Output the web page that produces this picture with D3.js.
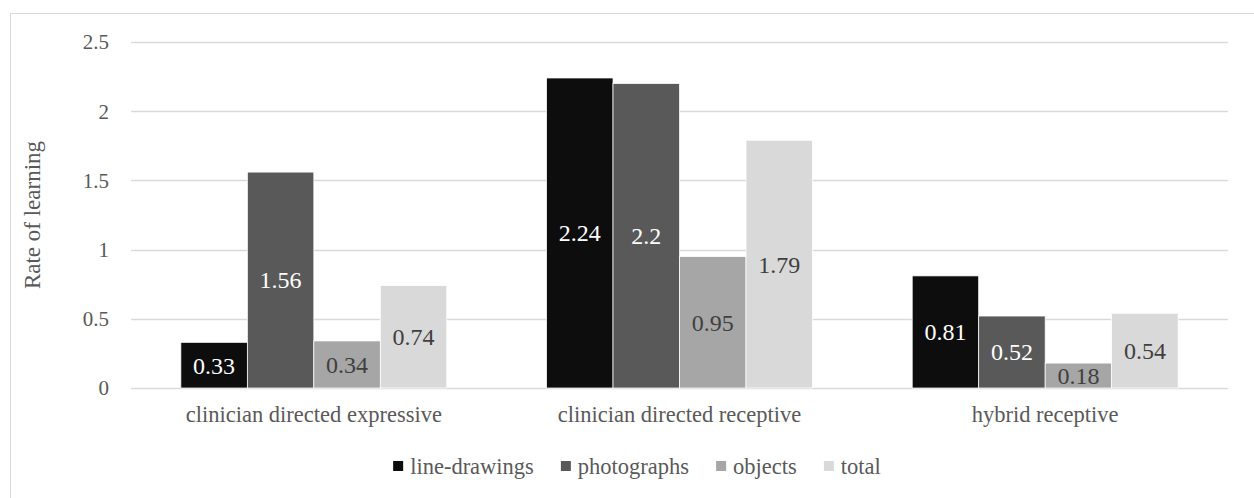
<!DOCTYPE html>
<html>
<head>
<meta charset="utf-8">
<script src="https://cdn.jsdelivr.net/npm/d3@7"></script>
</head>
<body style="margin:0">
<svg id="chart" width="1254" height="498" font-family="Times New Roman, Liberation Serif, Tinos, serif"></svg>
<script>
// Rate of learning by teaching condition and stimulus type
const categories = ["clinician directed expressive", "clinician directed receptive", "hybrid receptive"];
const seriesNames = ["line-drawings", "photographs", "objects", "total"];
const lineDrawings = [0.33, 2.24, 0.81];
const photographs  = [1.56, 2.2, 0.52];
const objects      = [0.34, 0.95, 0.18];
const total        = [0.74, 1.79, 0.54];
const yTicks = [0, 0.5, 1, 1.5, 2, 2.5];
const yTickLabels = ["0", "0.5", "1", "1.5", "2", "2.5"];
const yTitle = "Rate of learning";

const seriesValues = [lineDrawings, photographs, objects, total];
const fills = ["#0d0d0d", "#595959", "#a6a6a6", "#d9d9d9"];
const labelColors = ["#ffffff", "#ffffff", "#404040", "#404040"];
const textColor = "#595959";
const gridColor = "#d9d9d9";
const fontFamily = "Times New Roman";

const svg = d3.select("#chart").style("display", "block");
const plot = { left: 131, right: 1228, top: 42, bottom: 388 };

// outer chart frame
svg.append("rect")
  .attr("x", 10.5).attr("y", 13.5)
  .attr("width", 1300).attr("height", 600)
  .attr("fill", "none").attr("stroke", gridColor).attr("stroke-width", 1);

const y = d3.scaleLinear().domain([0, 2.5]).range([plot.bottom, plot.top]);
const x0 = d3.scaleBand().domain(categories).range([plot.left, plot.right]).padding(0);
const x1 = d3.scaleBand().domain(seriesNames).range([0, x0.bandwidth()])
  .paddingInner(0).paddingOuter(0.75);

// horizontal gridlines
svg.append("g").selectAll("line").data(yTicks).join("line")
  .attr("x1", plot.left).attr("x2", plot.right)
  .attr("y1", d => Math.round(y(d)) + 0.5).attr("y2", d => Math.round(y(d)) + 0.5)
  .attr("stroke", gridColor).attr("stroke-width", 1.5);

// y tick labels
svg.append("g").selectAll("text").data(yTicks).join("text")
  .attr("x", 109).attr("y", d => y(d))
  .attr("dy", "0.35em")
  .attr("text-anchor", "end")
  .style("font-family", fontFamily)
  .attr("font-size", 21)
  .attr("fill", textColor)
  .text((d, i) => yTickLabels[i]);

// y axis title
svg.append("text")
  .attr("transform", `translate(40,${(plot.top + plot.bottom) / 2}) rotate(-90)`)
  .attr("text-anchor", "middle")
  .style("font-family", fontFamily)
  .attr("font-size", 23)
  .attr("fill", textColor)
  .text(yTitle);

// bars
const rows = [];
categories.forEach((c, ci) => {
  seriesNames.forEach((s, si) => {
    rows.push({ cat: c, series: s, si, value: seriesValues[si][ci] });
  });
});

const bars = svg.append("g");
bars.selectAll("rect").data(rows).join("rect")
  .attr("x", d => x0(d.cat) + x1(d.series))
  .attr("y", d => y(d.value))
  .attr("width", x1.bandwidth())
  .attr("height", d => y(0) - y(d.value))
  .attr("fill", d => fills[d.si])
  .attr("stroke", "#ffffff").attr("stroke-width", 0.75);

// value labels centred in each bar
bars.selectAll("text").data(rows).join("text")
  .attr("x", d => x0(d.cat) + x1(d.series) + x1.bandwidth() / 2)
  .attr("y", d => (y(d.value) + y(0)) / 2)
  .attr("dy", "0.35em")
  .attr("text-anchor", "middle")
  .style("font-family", fontFamily)
  .attr("font-size", 24)
  .attr("fill", d => labelColors[d.si])
  .text(d => String(d.value));

// category labels
svg.append("g").selectAll("text").data(categories).join("text")
  .attr("x", d => x0(d) + x0.bandwidth() / 2)
  .attr("y", 422)
  .attr("text-anchor", "middle")
  .style("font-family", fontFamily)
  .attr("font-size", 22.5)
  .attr("fill", textColor)
  .text(d => d);

// legend, centred under the chart
const legend = svg.append("g");
const sw = 10, gapText = 7, gapItem = 27, legendY = 466, legendCenter = 637;
const items = legend.selectAll("g").data(seriesNames).join("g");
items.append("rect")
  .attr("width", sw).attr("height", sw)
  .attr("y", legendY - sw / 2)
  .attr("fill", (d, i) => fills[i]);
items.append("text")
  .attr("x", sw + gapText).attr("y", legendY)
  .attr("dy", "0.35em")
  .style("font-family", fontFamily)
  .attr("font-size", 22.5)
  .attr("fill", textColor)
  .text(d => d);
let widths = [];
items.each(function () { widths.push(sw + gapText + d3.select(this).select("text").node().getComputedTextLength()); });
const totalW = d3.sum(widths) + gapItem * (widths.length - 1);
let cx = legendCenter - totalW / 2;
items.attr("transform", (d, i) => {
  const t = `translate(${cx},0)`;
  cx += widths[i] + gapItem;
  return t;
});
</script>
</body>
</html>
